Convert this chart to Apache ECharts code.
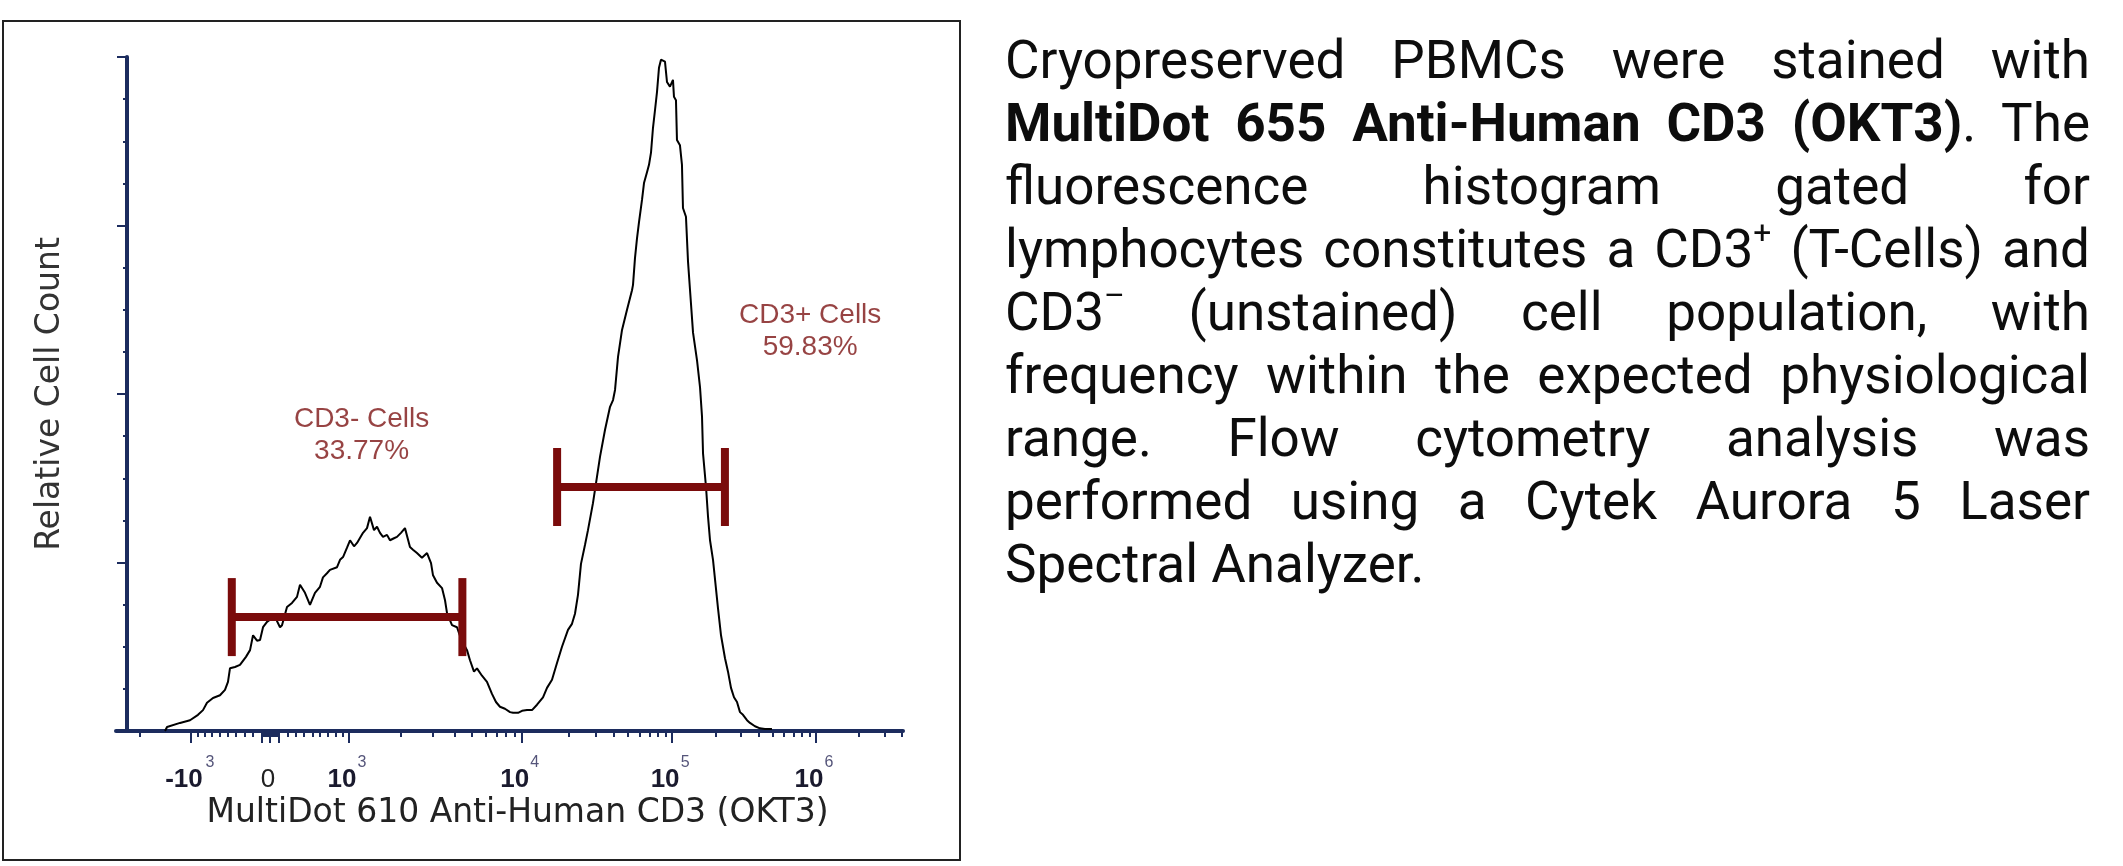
<!DOCTYPE html>
<html>
<head>
<meta charset="utf-8">
<script src="https://cdn.jsdelivr.net/npm/echarts@6/dist/echarts.min.js"></script>
<style>
  html, body { margin:0; padding:0; background:#fff; }
  #chart { position:absolute; left:0; top:0; width:2123px; height:866px; }
  #para { position:absolute; left:1005px; top:29px; width:1085px; font-family:Roboto, "Noto Sans", sans-serif;
          font-size:53px; line-height:63px; color:#0d0d0d; }
  #para .ln { text-align:justify; text-align-last:justify; height:63px; white-space:normal; }
  #para .last { text-align-last:left; text-align:left; }
  #para sup { font-size:0.6em; line-height:0; vertical-align:0.75em; }
</style>
</head>
<body>
<div id="chart"></div>
<div id="para">
  <div class="ln">Cryopreserved PBMCs were stained with</div>
  <div class="ln"><b>MultiDot 655 Anti-Human CD3 (OKT3)</b>. The</div>
  <div class="ln">fluorescence histogram gated for</div>
  <div class="ln">lymphocytes constitutes a CD3<sup>+</sup> (T-Cells) and</div>
  <div class="ln">CD3<sup>–</sup> (unstained) cell population, with</div>
  <div class="ln">frequency within the expected physiological</div>
  <div class="ln">range. Flow cytometry analysis was</div>
  <div class="ln">performed using a Cytek Aurora 5 Laser</div>
  <div class="ln last">Spectral Analyzer.</div>
</div>
<script>
// ---------------- data ----------------
// histogram: display channel (0..1024, logicle scale) and relative cell count (% of max)
const histChannel = [63.8,66.4,83.3,96.3,106.7,113.2,118.4,126.2,135.3,141.8,145.7,148.3,154.8,161.3,169.1,174.4,178.3,183.5,187.4,191.3,
  196.5,200.4,208.2,213.4,216.0,222.5,229.0,235.5,239.4,245.9,252.4,258.9,265.4,269.3,274.5,278.4,287.6,291.5,295.4,300.6,
  304.5,309.7,313.6,321.4,326.6,330.5,335.7,339.6,343.5,347.4,352.6,356.5,361.7,365.6,370.8,376.0,382.5,386.4,391.6,398.1,
  404.7,409.9,412.5,417.7,424.2,428.1,430.7,437.2,443.7,447.6,451.5,456.7,460.6,465.8,469.7,476.2,482.7,489.2,494.4,499.6,
  506.1,512.7,516.6,523.1,528.3,534.8,541.3,547.8,555.6,560.8,567.3,573.8,580.3,588.1,593.3,597.2,601.1,605.0,610.2,614.1,
  620.6,625.8,629.8,636.3,642.8,646.7,649.3,653.2,658.4,664.9,671.4,672.7,675.3,677.9,680.5,684.4,687.0,690.9,693.5,696.1,
  698.7,701.3,703.9,706.5,709.1,711.7,714.3,716.9,720.8,724.7,726.0,728.6,729.9,733.8,736.4,737.7,741.6,744.3,746.9,750.8,
  756.0,759.9,762.5,763.8,767.7,770.3,772.9,776.8,783.3,787.2,792.4,796.3,800.2,804.1,808.0,811.9,815.8,821.0,824.9,831.4,
  837.9,844.4,853.5];
const histCount = [0,0.6,1.2,1.6,2.4,3.1,4.2,4.9,5.3,6.1,7.3,9.3,9.5,9.8,11.0,12.0,14.2,13.4,13.5,15.4,
  16.2,16.5,16.6,15.4,15.7,18.4,19.0,19.9,21.7,20.5,18.7,20.5,21.4,22.8,23.4,23.9,24.3,25.4,25.8,27.2,
  28.3,27.4,27.9,29.4,30.1,31.8,29.8,30.3,29.4,28.8,29.1,28.3,28.6,28.8,29.4,30.1,27.3,26.9,26.4,25.7,
  26.4,24.9,23.1,22.0,21.2,19.4,17.5,15.7,15.4,14.1,13.1,12.0,10.5,8.8,9.3,8.2,7.3,5.5,4.3,3.6,
  3.3,2.8,2.7,2.7,3.0,3.1,3.1,3.9,5.0,6.4,7.6,10.1,12.5,15.0,15.9,17.4,20.2,24.8,27.6,29.8,
  33.8,37.7,40.7,44.7,48.1,49.1,50.6,55.5,59.5,62.5,65.4,66.2,70.2,73.1,75.5,78.8,81.3,82.9,84.0,85.8,
  89.5,92.1,94.8,98.4,99.6,99.8,99.3,96.3,95.6,96.6,94.1,93.6,87.7,86.9,84.0,77.6,76.3,69.6,65.4,59.1,
  55.0,51.0,46.6,41.2,36.2,31.8,28.3,25.4,18.2,14.2,10.8,8.8,6.4,5.0,4.3,2.8,2.4,1.6,1.2,0.7,
  0.4,0.3,0.3];

// x-axis tick marks (raw fluorescence)
const tickLabelRaw  = [-1000, 0, 1000, 10000, 100000, 1000000];
const tickLabelBase = ['-10', '0', '10', '10', '10', '10'];
const tickLabelExp  = ['3', '', '3', '4', '5', '6'];
const majorTickRaw  = [-1000, -100, 0, 100, 1000, 10000, 100000, 1000000];
const minorTickRaw  = [-2000, -900, -800, -700, -600, -500, -400, -300, -200,
  -90, -80, -70, -60, -50, -40, -30, -20, -10, 10, 20, 30, 40, 50, 60, 70, 80, 90,
  200, 300, 400, 500, 600, 700, 800, 900,
  2000, 3000, 4000, 5000, 6000, 7000, 8000, 9000,
  20000, 30000, 40000, 50000, 60000, 70000, 80000, 90000,
  200000, 300000, 400000, 500000, 600000, 700000, 800000, 900000,
  2000000, 3000000, 4000000];

// gates (raw fluorescence bounds, count level)
const gateNames = ['CD3- Cells', 'CD3+ Cells'];
const gatePercent = ['33.77%', '59.83%'];
const gateMinRaw = [-450, 16800];
const gateMaxRaw = [4400, 232000];
const gateLevel = [16.9, 36.2];
const gateLabelRaw = [1200, 910000];
const gateLabelLevel = [43.9, 59.3];

// ---------------- logicle (biexponential) display transform ----------------
const LG = { C: 152, p: 3.72, zeroCh: 200.4, chPerDecade: 186.1 };
function rawFromD(d) {
  const a = Math.abs(d), p = LG.p;
  const v = LG.C * (Math.pow(10, a) - p * p * Math.pow(10, -a / p) + p * p - 1);
  return d < 0 ? -v : v;
}
function toChannel(raw) {
  let lo = -4, hi = 7;
  for (let k = 0; k < 90; k++) {
    const mid = (lo + hi) / 2;
    if (rawFromD(mid) < raw) lo = mid; else hi = mid;
  }
  return LG.zeroCh + LG.chPerDecade * (lo + hi) / 2;
}

const AX = '#1c2c5e';
const GATE = '#7a0b0b';
const labelCh = tickLabelRaw.map(toChannel);
function nearestIdx(v) {
  let idx = 0, best = Infinity;
  labelCh.forEach((c, i) => { if (Math.abs(c - v) < best) { best = Math.abs(c - v); idx = i; } });
  return idx;
}
const decadeCh = labelCh.filter((c, i) => tickLabelExp[i]);
const zeroCh = labelCh.filter((c, i) => !tickLabelExp[i]);
const posExpCh = labelCh.filter((c, i) => tickLabelExp[i] && tickLabelRaw[i] > 0);
const negExpCh = labelCh.filter((c, i) => tickLabelExp[i] && tickLabelRaw[i] < 0);

function hiddenAxis(extra) {
  return Object.assign({
    type: 'value', min: 0, max: 1024, position: 'bottom',
    axisLine: { show: false, onZero: false },
    axisTick: { show: false },
    axisLabel: { show: false },
    splitLine: { show: false }
  }, extra);
}
const labelFormatter = function (v) { return tickLabelBase[nearestIdx(v)]; };
const expLabelStyle = { fontFamily: 'Liberation Sans', fontSize: 16, lineHeight: 18, color: '#55557a', hideOverlap: false,
  formatter: function (v) { return tickLabelExp[nearestIdx(v)]; } };

const chart = echarts.init(document.getElementById('chart'), null, { renderer: 'canvas', width: 2123, height: 866 });
const option = {
  animation: false,
  backgroundColor: '#fff',
  graphic: [{
    type: 'rect', shape: { x: 3, y: 21, width: 957, height: 839 },
    style: { fill: 'none', stroke: '#222', lineWidth: 2 }, silent: true, z: 0
  }],
  grid: { left: 116, top: 57, width: 787, height: 674, outerBoundsMode: 'none', containLabel: false },
  xAxis: [{
    type: 'value', min: 0, max: 1024, position: 'bottom',
    axisLine: { show: true, onZero: false, lineStyle: { color: AX, width: 4 } },
    axisTick: { show: true, customValues: majorTickRaw.map(toChannel), length: 12, lineStyle: { color: AX, width: 2 } },
    axisLabel: {
      show: true, customValues: decadeCh, margin: 34, hideOverlap: false,
      fontFamily: 'Liberation Sans', fontSize: 26, fontWeight: 'bold', lineHeight: 30, color: '#1a1a2e',
      padding: [0, 14, 0, 0], formatter: labelFormatter
    },
    splitLine: { show: false },
    name: 'MultiDot 610 Anti-Human CD3 (OKT3)', nameLocation: 'middle', nameGap: 66, nameMoveOverlap: false,
    nameTextStyle: { fontFamily: 'DejaVu Sans', fontSize: 33, color: '#222', padding: [0, 0, 0, 16] }
  }, hiddenAxis({
    axisTick: { show: true, customValues: minorTickRaw.map(toChannel), length: 6, lineStyle: { color: AX, width: 2 } }
  }), hiddenAxis({
    axisLabel: Object.assign({ show: true, customValues: posExpCh, margin: 23, padding: [0, 0, 0, 26] }, expLabelStyle)
  }), hiddenAxis({
    axisLabel: Object.assign({ show: true, customValues: negExpCh, margin: 23, padding: [0, 0, 0, 38] }, expLabelStyle)
  }), hiddenAxis({
    axisLabel: { show: true, customValues: zeroCh, margin: 34, hideOverlap: false, padding: [0, 4, 0, 0],
      fontFamily: 'Liberation Sans', fontSize: 26, lineHeight: 30, color: '#222', formatter: labelFormatter }
  })],
  yAxis: {
    type: 'value', min: 0, max: 100, interval: 25, position: 'left', offset: -11,
    axisLine: { show: true, onZero: false, lineStyle: { color: AX, width: 4 } },
    axisTick: { show: true, length: 10, lineStyle: { color: AX, width: 2 } },
    minorTick: { show: true, splitNumber: 4, length: 4, lineStyle: { color: AX, width: 2 } },
    axisLabel: { show: false },
    splitLine: { show: false }, minorSplitLine: { show: false },
    name: 'Relative Cell Count', nameLocation: 'middle', nameGap: 60, nameRotate: 90, nameMoveOverlap: false,
    nameTextStyle: { fontFamily: 'DejaVu Sans', fontSize: 33, color: '#333' }
  },
  series: [{
    type: 'line', name: 'histogram', xAxisIndex: 0, yAxisIndex: 0,
    data: histChannel.map((c, i) => [c, histCount[i]]),
    showSymbol: false, symbol: 'none', smooth: false,
    lineStyle: { color: '#000', width: 2 }, z: 2, silent: true
  }, {
    type: 'custom', name: 'gates', xAxisIndex: 0, yAxisIndex: 0,
    data: gateNames.map((n, i) => [toChannel(gateMinRaw[i]), toChannel(gateMaxRaw[i]), gateLevel[i]]),
    encode: { x: [0, 1], y: 2 },
    renderItem: function (params, api) {
      const a = api.coord([api.value(0), api.value(2)]);
      const b = api.coord([api.value(1), api.value(2)]);
      const CAP = 39;
      return { type: 'group', children: [
        { type: 'line', shape: { x1: a[0], y1: a[1], x2: b[0], y2: b[1] }, style: { stroke: GATE, lineWidth: 8 } },
        { type: 'line', shape: { x1: a[0], y1: a[1] - CAP, x2: a[0], y2: a[1] + CAP }, style: { stroke: GATE, lineWidth: 8 } },
        { type: 'line', shape: { x1: b[0], y1: b[1] - CAP, x2: b[0], y2: b[1] + CAP }, style: { stroke: GATE, lineWidth: 8 } }
      ] };
    },
    z: 5, silent: true
  }, {
    type: 'scatter', name: 'gate labels', xAxisIndex: 0, yAxisIndex: 0,
    data: gateNames.map((n, i) => ({ value: [toChannel(gateLabelRaw[i]), gateLabelLevel[i]], name: n })),
    symbolSize: 0, silent: true, z: 6,
    label: {
      show: true, position: 'inside',
      formatter: function (p) { return gateNames[p.dataIndex] + '\n' + gatePercent[p.dataIndex]; },
      fontFamily: 'Liberation Sans', fontSize: 28, lineHeight: 32, color: '#7d1414', align: 'center'
    }
  }]
};
chart.setOption(option);
</script>
</body>
</html>
